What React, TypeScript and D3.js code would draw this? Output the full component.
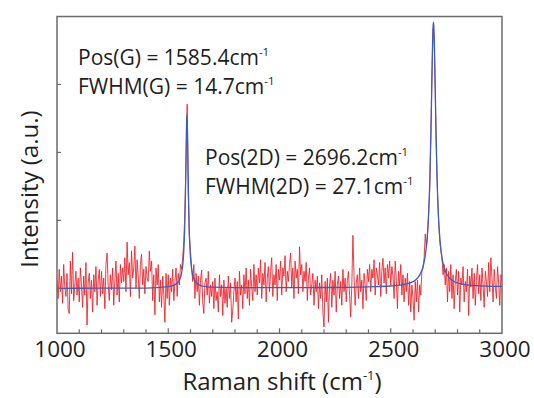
import React from "react";
import * as d3 from "d3";

// ---- data ----
const xTickLabels = [1000, 1500, 2000, 2500, 3000];
const xMinorTicks = d3.range(1100, 3000, 100);
const yTickValues = [0, 1, 2, 3];

// measured spectrum (red), 1000..3000 cm-1, step 5
const spectrumStart = 1000;
const spectrumStep = 5;
const spectrumIntensity = [
  0.12, -0.15, 0.28, -0.05, 0.18, -0.22, 0.35, 0.02, -0.12, 0.22, -0.30, -0.37, 0.40, -0.08, 0.53, -0.18, 0.05, 0.25, -0.10, 0.15,
  -0.20, 0.30, 0.05, -0.28, 0.18, -0.10, 0.38, -0.54, 0.08, 0.22, -0.15, 0.12, -0.35, 0.20, -0.05, 0.32, -0.25, 0.10, 0.28, -0.12,
  0.25, -0.08, 0.15, -0.30, 0.35, 0.52, 0.05, -0.18, 0.20, -0.02, 0.30, -0.25, 0.12, 0.40, -0.10, 0.22, -0.20, 0.35, 0.08, 0.30,
  0.10, 0.45, -0.05, 0.68, 0.20, 0.38, -0.12, 0.55, 0.15, 0.30, 0.62, 0.00, 0.42, 0.18, -0.15, 0.35, 0.50, 0.05, 0.28, -0.08,
  0.32, 0.15, 0.10, 0.55, 0.25, 0.40, -0.18, 0.20, -0.39, 0.30, 0.05, 0.35, -0.20, 0.12, -0.28, 0.18, -0.10, -0.50, 0.22, -0.15,
  0.20, -0.25, 0.15, -0.05, 0.28, -0.18, 0.10, 0.30, -0.12, 0.22, 0.05, 0.35, 0.28, 0.45, 0.70, 1.15, 1.90, 2.71, 1.40, 0.75,
  0.55, 0.30, 0.10, 0.35, -0.15, 0.22, -0.05, 0.18, -0.25, 0.12, 0.27, -0.20, -0.37, 0.08, 0.15, -0.10, 0.25, -0.22, 0.05, -0.12,
  0.10, -0.30, 0.15, -0.18, -0.05, -0.35, 0.20, -0.12, 0.05, -0.40, 0.12, -0.22, 0.00, -0.28, 0.18, -0.15, 0.08, -0.50, -0.32, -0.05,
  0.15, -0.20, 0.10, -0.45, 0.25, -0.10, 0.05, -0.30, 0.20, -0.08, 0.30, -0.15, 0.12, -0.25, 0.28, 0.02, -0.18, 0.35, -0.05, 0.20,
  -0.10, 0.30, 0.08, 0.42, -0.15, 0.22, 0.05, 0.38, -0.20, 0.15, 0.32, -0.05, 0.25, 0.45, -0.12, 0.20, 0.05, 0.35, -0.18, 0.28,
  0.12, 0.40, -0.10, 0.30, 0.18, 0.48, -0.05, 0.25, 0.10, 0.35, 0.52, 0.02, 0.30, -0.15, 0.40, 0.15, 0.28, -0.08, 0.61, 0.20,
  0.35, -0.05, 0.25, 0.10, 0.38, -0.18, 0.15, 0.30, -0.10, 0.05, 0.22, -0.25, 0.12, -0.05, 0.18, -0.30, 0.08, -0.15, 0.20, -0.35,
  -0.57, 0.10, -0.20, 0.15, -0.50, 0.05, 0.22, -0.28, 0.12, -0.10, 0.25, -0.35, 0.05, 0.18, -0.15, 0.10, -0.25, 0.28, -0.05, 0.15,
  -0.20, 0.12, 0.25, -0.10, -0.42, 0.05, 0.78, 0.18, -0.25, 0.08, 0.20, -0.15, 0.30, -0.05, 0.12, -0.30, 0.22, 0.05, -0.18, 0.28,
  0.10, 0.35, -0.05, 0.28, 0.15, 0.42, -0.10, 0.30, 0.20, 0.05, 0.38, -0.12, 0.25, 0.44, 0.08, 0.30, -0.08, 0.35, 0.15, 0.40,
  0.05, 0.32, 0.18, -0.15, 0.40, 0.12, -0.30, 0.25, 0.05, 0.35, -0.10, 0.20, -0.20, 0.15, -0.05, 0.22, -0.25, 0.10, -0.35, 0.05,
  -0.15, -0.47, 0.10, -0.20, 0.12, -0.35, 0.05, -0.10, 0.25, 0.30, 0.45, 0.80, 0.60, 0.75, 1.07, 1.45, 2.20, 3.10, 3.82, 3.72,
  2.90, 2.00, 1.42, 1.00, 0.72, 0.56, 0.45, 0.20, 0.35, 0.05, 0.30, -0.20, 0.25, -0.05, 0.35, -0.15, 0.20, -0.30, 0.10, 0.28,
  -0.10, 0.25, -0.35, 0.15, 0.05, 0.32, -0.20, 0.10, -0.05, 0.28, -0.40, 0.18, 0.02, 0.30, -0.15, 0.22, -0.25, 0.12, 0.35, -0.08,
  0.20, -0.18, 0.30, 0.05, -0.28, 0.25, 0.10, -0.12, 0.38, -0.05, 0.45, 0.15, -0.20, 0.28, 0.02, -0.15, 0.32, 0.08, -0.25, 0.20,
  0.10,
];
const spectrumShift = spectrumIntensity.map((_, i) => spectrumStart + spectrumStep * i);

// fitted curve (blue)
const fitShift = [
  1000, 1200, 1400, 1500, 1520, 1540, 1550, 1560, 1565, 1570, 1574, 1577, 1579, 1581, 1582.5, 1584,
  1585.5, 1587, 1589, 1591, 1594, 1598, 1603, 1608, 1618, 1628, 1648, 1668, 1700, 1800, 2000, 2200,
  2400, 2500, 2550, 2590, 2610, 2630, 2645, 2655, 2663, 2670, 2676, 2681, 2685, 2688, 2690, 2692,
  2694, 2696, 2699, 2703, 2708, 2714, 2721, 2729, 2739, 2754, 2774, 2794, 2834, 2884, 2950, 3000,
];
const fitIntensity = [
  0.000, 0.002, 0.004, 0.025, 0.039, 0.075, 0.120, 0.225, 0.338, 0.556, 0.901, 1.343, 1.749, 2.192, 2.454, 2.556,
  2.454, 2.192, 1.749, 1.343, 0.901, 0.556, 0.338, 0.225, 0.120, 0.075, 0.039, 0.026, 0.017, 0.011, 0.010, 0.012,
  0.022, 0.034, 0.050, 0.083, 0.120, 0.194, 0.315, 0.477, 0.715, 1.089, 1.645, 2.368, 3.095, 3.605, 3.834, 3.917,
  3.834, 3.605, 3.095, 2.368, 1.645, 1.089, 0.716, 0.478, 0.316, 0.196, 0.122, 0.086, 0.054, 0.039, 0.030, 0.028,
];

const annotations = [
  { label: "Pos(G) = 1585.4cm", x: 78, y: 65 },
  { label: "FWHM(G) = 14.7cm", x: 78, y: 93.5 },
  { label: "Pos(2D) = 2696.2cm", x: 205, y: 165 },
  { label: "FWHM(2D) = 27.1cm", x: 205, y: 193.5 },
];

const W = 534;
const H = 398;
const FONT = "'Open Sans', 'DejaVu Sans', sans-serif";

export default function App() {
  const left = 57, right = 502, top = 16.5, bottom = 333.3;
  const x = d3.scaleLinear().domain([1000, 3000]).range([left, right]);
  const y = d3.scaleLinear().domain([-0.662, 4.0]).range([bottom, top]);

  const redLine = d3
    .line<number>()
    .x((_, i) => x(spectrumShift[i]))
    .y((d) => y(d))(spectrumIntensity);

  const blueLine = d3
    .line<number>()
    .x((_, i) => x(fitShift[i]))
    .y((d) => y(d))
    .curve(d3.curveMonotoneX)(fitIntensity);

  const frame = "#6b6b6b";
  const textColor = "#1e1e1e";

  return (
    <svg
      width={W}
      height={H}
      style={{ position: "absolute", left: 0, top: 0, display: "block", background: "#fff" }}
      fontFamily={FONT}
    >
      <defs>
        <clipPath id="plotClip">
          <rect x={left} y={top} width={right - left} height={bottom - top} />
        </clipPath>
      </defs>

      <g clipPath="url(#plotClip)">
        <path d={redLine ?? ""} fill="none" stroke="#ee1c25" strokeWidth={1.0} strokeOpacity={0.85} strokeLinejoin="round" />
        <path d={blueLine ?? ""} fill="none" stroke="#3d5cc2" strokeWidth={1.3} />
      </g>

      {/* frame */}
      <rect x={left} y={top} width={right - left} height={bottom - top} fill="none" stroke={frame} strokeWidth={1.5} />

      {/* x ticks */}
      {xMinorTicks.map((t) => (
        <line key={"xt" + t} x1={x(t)} x2={x(t)} y1={bottom} y2={bottom - (t % 500 === 0 ? 5 : 4)} stroke={frame} strokeWidth={1.2} />
      ))}
      {/* y ticks */}
      {yTickValues.map((t) => (
        <line key={"yt" + t} x1={left} x2={left + 4} y1={y(t)} y2={y(t)} stroke={frame} strokeWidth={1.2} />
      ))}

      {/* x tick labels */}
      {xTickLabels.map((t) => (
        <text key={"xl" + t} x={x(t) + 3} y={357} textAnchor="middle" fontSize={22.5} fill={textColor}>
          {t}
        </text>
      ))}

      {/* axis titles */}
      <text x={282} y={390} textAnchor="middle" fontSize={24} fill={textColor}>
        Raman shift (cm
        <tspan fontSize={13} dy={-10}>-1</tspan>
        <tspan dy={10}>)</tspan>
      </text>
      <text
        transform={`translate(38, 189) rotate(-90)`}
        textAnchor="middle"
        fontSize={24}
        fill={textColor}
      >
        Intensity (a.u.)
      </text>

      {/* annotations */}
      {annotations.map((a) => (
        <text key={a.label} x={a.x} y={a.y} fontSize={21} fill={textColor}>
          {a.label}
          <tspan fontSize={11.5} dy={-9}>-1</tspan>
        </text>
      ))}
    </svg>
  );
}
